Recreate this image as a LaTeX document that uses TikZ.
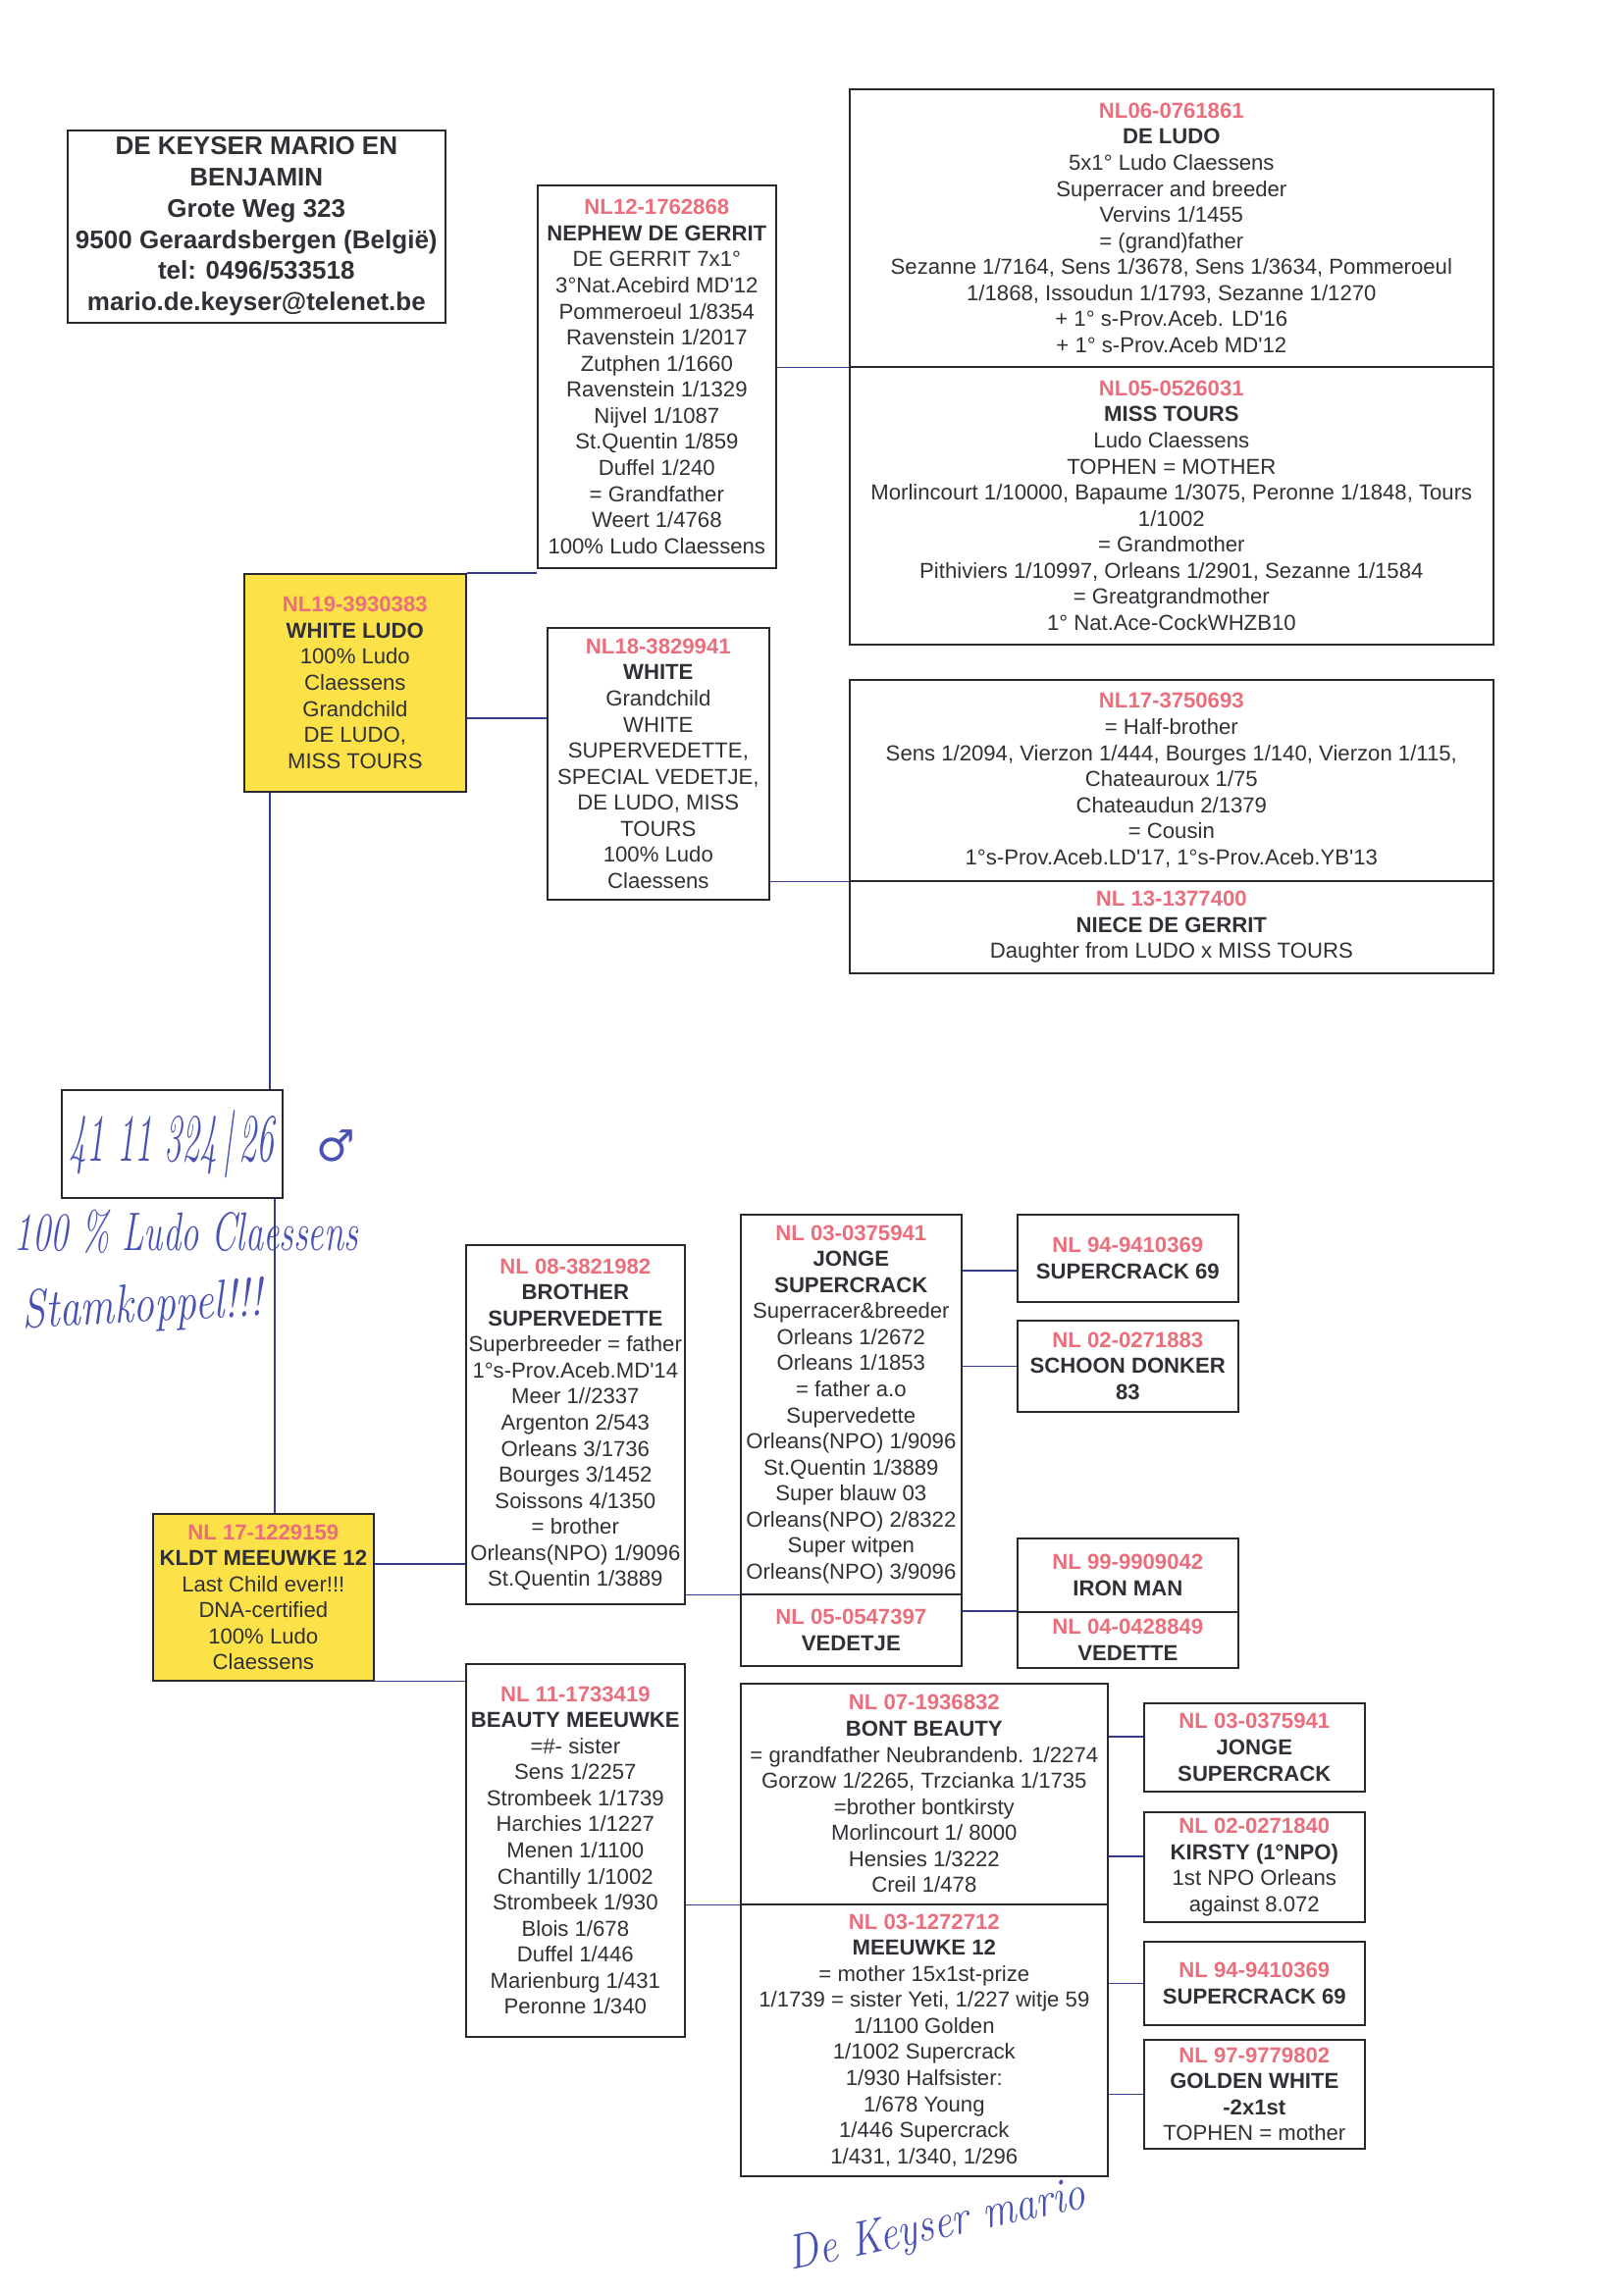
\documentclass[tikz,border=0pt]{standalone}
\usepackage{fontspec}
\newfontfamily\arialfont{Liberation Sans}
\newfontfamily\symfont{DejaVu Sans}
\definecolor{ringred}{RGB}{234,110,124}
\definecolor{boxtext}{RGB}{48,48,54}
\definecolor{boxline}{RGB}{40,40,45}
\definecolor{linkblue}{RGB}{52,58,140}
\definecolor{pedyellow}{RGB}{252,226,72}
\definecolor{ink}{RGB}{72,82,178}
\newcommand{\px}{0.127mm}
\newcommand{\ring}[1]{\textcolor{ringred}{\bfseries #1}}

\begin{document}
\begin{tikzpicture}[x=\px, y=-\px,
    pbox/.style 2 args={draw=boxline, line width=0.6pt, anchor=north west,
        minimum width=#1*\px, minimum height=#2*\px, inner sep=1pt,
        align=center, text=boxtext, font=\arialfont\fontsize{8}{9.6}\selectfont},
    hen/.style={fill=pedyellow},
    link/.style={draw=linkblue, line width=0.5pt},
    hand/.style={text=ink, font=\itshape\fontsize{18}{20}\selectfont}]
    \useasboundingbox (0,0) rectangle (1654,2337);

    % owner
    \node[pbox={385}{196}, font=\arialfont\bfseries\fontsize{9.4}{11.5}\selectfont] (owner) at (68,132)
        {DE KEYSER MARIO EN\\BENJAMIN\\Grote Weg 323\\9500 Geraardsbergen (België)\\tel: 0496/533518\\mario.de.keyser@telenet.be};

    % father side
    \node[pbox={226}{222}, hen] (wludo) at (248,584)
        {\ring{NL19-3930383}\\\textbf{WHITE LUDO}\\100\% Ludo\\Claessens\\Grandchild\\DE LUDO,\\MISS TOURS};
    \node[pbox={243}{390}] (nephew) at (547,188)
        {\ring{NL12-1762868}\\\textbf{NEPHEW DE GERRIT}\\DE GERRIT 7x1°\\3°Nat.Acebird MD'12\\Pommeroeul 1/8354\\Ravenstein 1/2017\\Zutphen 1/1660\\Ravenstein 1/1329\\Nijvel 1/1087\\St.Quentin 1/859\\Duffel 1/240\\= Grandfather\\Weert 1/4768\\100\% Ludo Claessens};
    \node[pbox={226}{277}] (white) at (557,639)
        {\ring{NL18-3829941}\\\textbf{WHITE}\\Grandchild\\WHITE\\SUPERVEDETTE,\\SPECIAL VEDETJE,\\DE LUDO, MISS\\TOURS\\100\% Ludo\\Claessens};
    \node[pbox={656}{283}] (deludo) at (865,90)
        {\ring{NL06-0761861}\\\textbf{DE LUDO}\\5x1° Ludo Claessens\\Superracer and breeder\\Vervins 1/1455\\= (grand)father\\Sezanne 1/7164, Sens 1/3678, Sens 1/3634, Pommeroeul\\1/1868, Issoudun 1/1793, Sezanne 1/1270\\+ 1° s-Prov.Aceb. LD'16\\+ 1° s-Prov.Aceb MD'12};
    \node[pbox={656}{283}] (misstours) at (865,373)
        {\ring{NL05-0526031}\\\textbf{MISS TOURS}\\Ludo Claessens\\TOPHEN = MOTHER\\Morlincourt 1/10000, Bapaume 1/3075, Peronne 1/1848, Tours\\1/1002\\= Grandmother\\Pithiviers 1/10997, Orleans 1/2901, Sezanne 1/1584\\= Greatgrandmother\\1° Nat.Ace-CockWHZB10};
    \node[pbox={656}{205}] (halfbro) at (865,692)
        {\ring{NL17-3750693}\\= Half-brother\\Sens 1/2094, Vierzon 1/444, Bourges 1/140, Vierzon 1/115,\\Chateauroux 1/75\\Chateaudun 2/1379\\= Cousin\\1°s-Prov.Aceb.LD'17, 1°s-Prov.Aceb.YB'13};
    \node[pbox={656}{94}] (niece) at (865,897)
        {\ring{NL 13-1377400}\\\textbf{NIECE DE GERRIT}\\Daughter from LUDO x MISS TOURS};

    % handwritten ring
    \node[pbox={225}{110}, hand, font=\itshape\fontsize{25}{27}\selectfont] (ringbox) at (62,1110)
        {\scalebox{0.52}[1]{41 11 324\,\textbar\,26}};
    \node[text=ink, font=\symfont\fontsize{16}{18}\selectfont] (male) at (342,1168) {♂};
    \node[hand, font=\itshape\fontsize{20}{22}\selectfont] (claessens) at (190,1255) {\scalebox{0.66}[1]{100 \% Ludo Claessens}};
    \node[hand, font=\itshape\fontsize{20}{22}\selectfont, rotate=3] (stam) at (145,1333) {\scalebox{0.78}[1]{Stamkoppel!!!}};

    % mother side
    \node[pbox={225}{170}, hen] (kldt) at (155,1542)
        {\ring{NL 17-1229159}\\\textbf{KLDT MEEUWKE 12}\\Last Child ever!!!\\DNA-certified\\100\% Ludo\\Claessens};
    \node[pbox={223}{366}] (brother) at (474,1268)
        {\ring{NL 08-3821982}\\\textbf{BROTHER}\\\textbf{SUPERVEDETTE}\\Superbreeder = father\\1°s-Prov.Aceb.MD'14\\Meer 1//2337\\Argenton 2/543\\Orleans 3/1736\\Bourges 3/1452\\Soissons 4/1350\\= brother\\Orleans(NPO) 1/9096\\St.Quentin 1/3889};
    \node[pbox={223}{380}] (beauty) at (474,1695)
        {\ring{NL 11-1733419}\\\textbf{BEAUTY MEEUWKE}\\=\#- sister\\Sens 1/2257\\Strombeek 1/1739\\Harchies 1/1227\\Menen 1/1100\\Chantilly 1/1002\\Strombeek 1/930\\Blois 1/678\\Duffel 1/446\\Marienburg 1/431\\Peronne 1/340};
    \node[pbox={225}{387}] (jonge) at (754,1237)
        {\ring{NL 03-0375941}\\\textbf{JONGE}\\\textbf{SUPERCRACK}\\Superracer\&breeder\\Orleans 1/2672\\Orleans 1/1853\\= father a.o\\Supervedette\\Orleans(NPO) 1/9096\\St.Quentin 1/3889\\Super blauw 03\\Orleans(NPO) 2/8322\\Super witpen\\Orleans(NPO) 3/9096};
    \node[pbox={225}{73}] (vedetje) at (754,1624) {\ring{NL 05-0547397}\\\textbf{VEDETJE}};
    \node[pbox={225}{89}] (scracka) at (1036,1237) {\ring{NL 94-9410369}\\\textbf{SUPERCRACK 69}};
    \node[pbox={225}{93}] (schoon) at (1036,1345) {\ring{NL 02-0271883}\\\textbf{SCHOON DONKER}\\\textbf{83}};
    \node[pbox={225}{75}] (ironman) at (1036,1567) {\ring{NL 99-9909042}\\\textbf{IRON MAN}};
    \node[pbox={225}{57}] (vedette) at (1036,1642) {\ring{NL 04-0428849}\\\textbf{VEDETTE}};
    \node[pbox={374}{225}] (bont) at (754,1715)
        {\ring{NL 07-1936832}\\\textbf{BONT BEAUTY}\\= grandfather Neubrandenb. 1/2274\\Gorzow 1/2265, Trzcianka 1/1735\\=brother bontkirsty\\Morlincourt 1/ 8000\\Hensies 1/3222\\Creil 1/478};
    \node[pbox={374}{277}] (meeuwke) at (754,1940)
        {\ring{NL 03-1272712}\\\textbf{MEEUWKE 12}\\= mother 15x1st-prize\\1/1739 = sister Yeti, 1/227 witje 59\\1/1100 Golden\\1/1002 Supercrack\\1/930 Halfsister:\\1/678 Young\\1/446 Supercrack\\1/431, 1/340, 1/296};
    \node[pbox={225}{90}] (jongeb) at (1165,1735) {\ring{NL 03-0375941}\\\textbf{JONGE}\\\textbf{SUPERCRACK}};
    \node[pbox={225}{112}] (kirsty) at (1165,1846) {\ring{NL 02-0271840}\\\textbf{KIRSTY (1°NPO)}\\1st NPO Orleans\\against 8.072};
    \node[pbox={225}{85}] (scrackb) at (1165,1978) {\ring{NL 94-9410369}\\\textbf{SUPERCRACK 69}};
    \node[pbox={225}{111}] (golden) at (1165,2078) {\ring{NL 97-9779802}\\\textbf{GOLDEN WHITE}\\\textbf{-2x1st}\\TOPHEN = mother};

    \node[hand, rotate=12] (sign) at (955,2270) {\scalebox{0.85}[1]{De Keyser mario}};

    % connectors
    \draw[link] (wludo.north east) -- (wludo.north east -| nephew.west);
    \draw[link] (wludo.east |- 0,732) -- (white.west |- 0,732);
    \draw[link] (deludo.south west -| nephew.east) -- (deludo.south west);
    \draw[link] (halfbro.south west -| white.east) -- (halfbro.south west);
    \draw[link] (wludo.south -| 275,0) -- (ringbox.north -| 275,0);
    \draw[link] (ringbox.south -| 280,0) -- (kldt.north -| 280,0);
    \draw[link] (kldt.east |- 0,1594) -- (brother.west |- 0,1594);
    \draw[link] (kldt.south east) -- (kldt.south east -| beauty.west);
    \draw[link] (jonge.south west -| brother.east) -- (jonge.south west);
    \draw[link] (jonge.east |- 0,1295) -- (scracka.west |- 0,1295);
    \draw[link] (schoon.west -| jonge.east) -- (schoon.west);
    \draw[link] (vedette.north west -| vedetje.east) -- (vedette.north west);
    \draw[link] (bont.south west -| beauty.east) -- (bont.south west);
    \draw[link] (bont.east |- 0,1770) -- (jongeb.west |- 0,1770);
    \draw[link] (bont.east |- 0,1892) -- (kirsty.west |- 0,1892);
    \draw[link] (scrackb.west -| meeuwke.east) -- (scrackb.west);
    \draw[link] (golden.west -| meeuwke.east) -- (golden.west);
\end{tikzpicture}
\end{document}
